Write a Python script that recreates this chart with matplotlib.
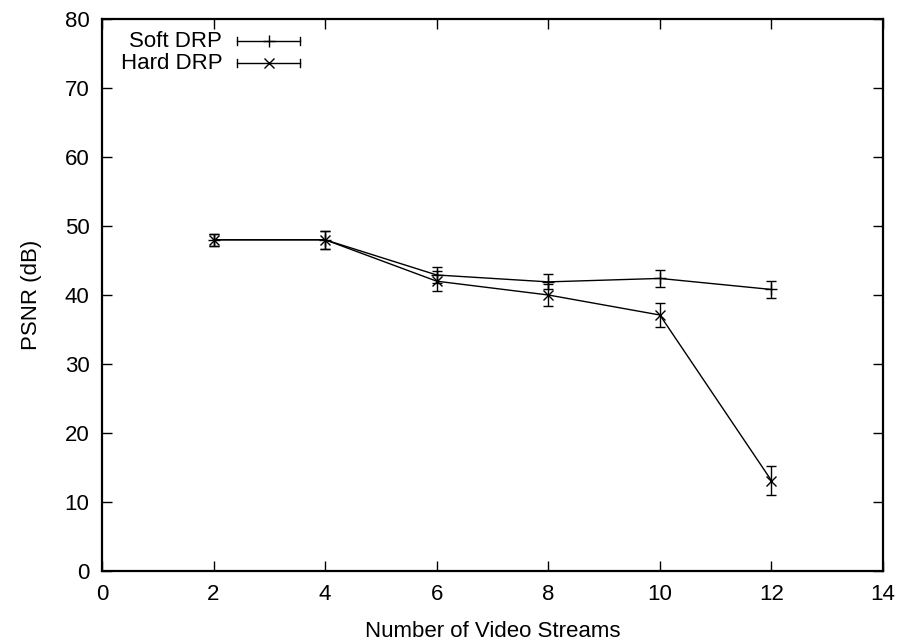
import matplotlib
matplotlib.use('Agg')
import matplotlib.pyplot as plt

plt.rcParams['font.family'] = ['Liberation Sans', 'DejaVu Sans']

# PSNR vs. number of concurrent video streams
streams = [2, 4, 6, 8, 10, 12]
soft_psnr = [48.0, 48.0, 42.9, 41.9, 42.4, 40.8]
soft_err = [0.9, 1.3, 1.2, 1.1, 1.2, 1.2]
hard_psnr = [48.0, 48.0, 42.0, 40.0, 37.1, 13.1]
hard_err = [0.9, 1.3, 1.45, 1.65, 1.8, 2.1]

x_ticks = [0, 2, 4, 6, 8, 10, 12, 14]
y_ticks = [0, 10, 20, 30, 40, 50, 60, 70, 80]

fig = plt.figure(figsize=(9.04, 6.41), dpi=100)
ax = fig.add_axes([0.1128, 0.1092, 0.8640, 0.8612])

ax.errorbar(streams, soft_psnr, yerr=soft_err, color='black', lw=1,
            marker='+', ms=8, mew=1, capsize=3.5, elinewidth=1, capthick=1)
ax.errorbar(streams, hard_psnr, yerr=hard_err, color='black', lw=1,
            marker='x', ms=7, mew=1, capsize=3.5, elinewidth=1, capthick=1)

ax.set_xlim(0, 14)
ax.set_ylim(0, 80)
ax.set_xticks(x_ticks)
ax.set_yticks(y_ticks)
ax.tick_params(direction='in', length=7, width=1, top=True, right=True,
               labelsize=16, pad=9)
for spine in ax.spines.values():
    spine.set_linewidth(1.6)

ax.set_xlabel('Number of Video Streams', fontsize=16, labelpad=12)
ax.set_ylabel('PSNR (dB)', fontsize=16, labelpad=16)

# gnuplot-style key: label on the left, sample with end caps on the right
labels = ['Soft DRP', 'Hard DRP']
markers = ['+', 'x']
for i, (lab, mk) in enumerate(zip(labels, markers)):
    yk = 0.960 - i * 0.040
    ax.text(0.154, yk, lab, transform=ax.transAxes, ha='right', va='center',
            fontsize=16)
    x0, x1 = 0.173, 0.2535
    ax.plot([x0, x1], [yk, yk], color='black', lw=1, transform=ax.transAxes,
            clip_on=False)
    for xc in (x0, x1):
        ax.plot([xc, xc], [yk - 0.007, yk + 0.007], color='black', lw=1,
                transform=ax.transAxes, clip_on=False)
    ax.plot([(x0 + x1) / 2], [yk], marker=mk, ms=8 if mk == '+' else 7,
            mew=1, color='black', transform=ax.transAxes, clip_on=False)

fig.savefig('out.png', dpi=100)
